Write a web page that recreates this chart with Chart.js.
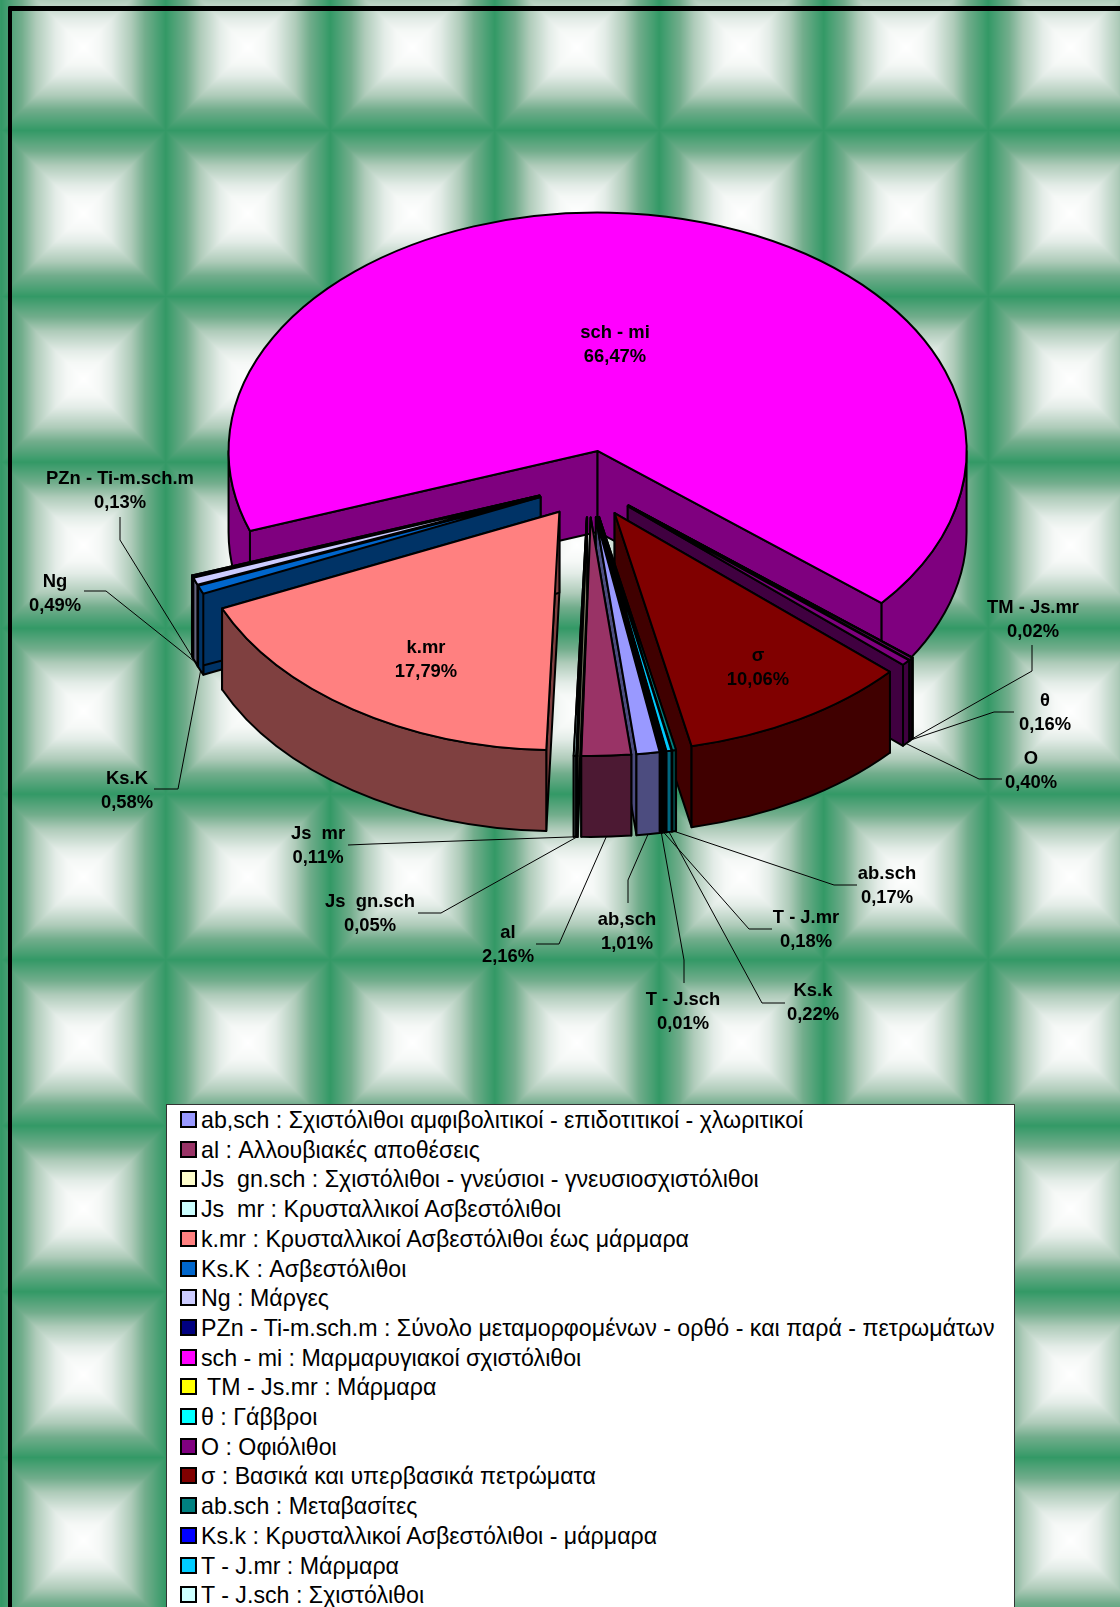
<!DOCTYPE html>
<html>
<head>
<meta charset="utf-8">
<style>
  html, body { margin: 0; padding: 0; background: #fff; overflow: hidden; }
  #page { position: relative; width: 1120px; height: 1607px; overflow: hidden; }
  #fondo, #grafico { position: absolute; left: 0; top: 0; }
  #marco { position: absolute; left: 8px; top: 6px; width: 1120px; height: 1620px; border: solid #000; border-width: 5px 0 0 4.5px; border-top-left-radius: 2px; }
  #leyenda { position: absolute; left: 166px; top: 1104px; width: 847px; height: 520px; background: #fff; border: 1px solid #333; font: 23.2px "Liberation Sans", Arial, sans-serif; color: #000; }
  .fila { position: absolute; left: 13px; height: 30px; line-height: 30px; white-space: pre; }
  .caja { position: absolute; left: 0; top: 6px; width: 13px; height: 13px; border: 2px solid #000; }
  .txt { position: absolute; left: 21px; top: 0; }
</style>
</head>
<body>
<div id="page">
  <canvas id="fondo" width="1120" height="1607"></canvas>
  <div id="marco"></div>
  <canvas id="grafico" width="1120" height="1607"></canvas>
  <div id="leyenda"></div>
</div>
<script src="https://cdn.jsdelivr.net/npm/chart.js@4/dist/chart.umd.min.js"></script>
<script>
const codes = ["ab,sch", "al", "Js  gn.sch", "Js  mr", "k.mr", "Ks.K", "Ng", "PZn - Ti-m.sch.m", "sch - mi", "TM - Js.mr", "θ", "O", "σ", "ab.sch", "Ks.k", "T - J.mr", "T - J.sch"];
const percents = [1.01, 2.16, 0.05, 0.11, 17.79, 0.58, 0.49, 0.13, 66.47, 0.02, 0.16, 0.40, 10.06, 0.17, 0.22, 0.18, 0.01];
const legendColors = ["#9999FF", "#993366", "#FFFFCC", "#CCFFFF", "#FF8080", "#0066CC", "#CCCCFF", "#000080", "#FF00FF", "#FFFF00", "#00FFFF", "#800080", "#800000", "#008080", "#0000FF", "#00CCFF", "#CCFFFF"];
// the thin slices do not show their legend colour in the picture (θ, Ks.k, T - J.mr)
const sliceColors = ["#9999FF", "#993366", "#FFFFCC", "#CCFFFF", "#FF8080", "#0066CC", "#CCCCFF", "#000080", "#FF00FF", "#FFFF00", "#800080", "#800080", "#800000", "#008080", "#00CCFF", "#000000", "#CCFFFF"];
const legendNames = [
  "ab,sch : Σχιστόλιθοι αμφιβολιτικοί - επιδοτιτικοί - χλωριτικοί",
  "al : Αλλουβιακές αποθέσεις",
  "Js  gn.sch : Σχιστόλιθοι - γνεύσιοι - γνευσιοσχιστόλιθοι",
  "Js  mr : Κρυσταλλικοί Ασβεστόλιθοι",
  "k.mr : Κρυσταλλικοί Ασβεστόλιθοι έως μάρμαρα",
  "Ks.K : Ασβεστόλιθοι",
  "Ng : Μάργες",
  "PZn - Ti-m.sch.m : Σύνολο μεταμορφομένων - ορθό - και παρά - πετρωμάτων",
  "sch - mi : Μαρμαρυγιακοί σχιστόλιθοι",
  " TM - Js.mr : Μάρμαρα",
  "θ : Γάββροι",
  "O : Οφιόλιθοι",
  "σ : Βασικά και υπερβασικά πετρώματα",
  "ab.sch : Μεταβασίτες",
  "Ks.k : Κρυσταλλικοί Ασβεστόλιθοι - μάρμαρα",
  "T - J.mr : Μάρμαρα",
  "T - J.sch : Σχιστόλιθοι"
];

// 3d look of the pie
const SQUASH = 0.646;
const DEPTH = 81;
const EXPLODE = 52;

// label center [x, y of first line] and the elbow of its leader line (first two points, the last comes from the slice)
const callouts = {
  "ab,sch": { at: [627, 918], line: [[628, 903], [628, 880]] },
  "al": { at: [508, 931], line: [[536, 944], [559, 944]] },
  "Js  gn.sch": { at: [370, 900], line: [[418, 913], [441, 913]] },
  "Js  mr": { at: [318, 832], line: [[348, 845], [372, 844]] },
  "k.mr": { at: [426, 646] },
  "Ks.K": { at: [127, 777], line: [[154, 789], [178, 789]] },
  "Ng": { at: [55, 580], line: [[84, 591], [106, 591]] },
  "PZn - Ti-m.sch.m": { at: [120, 477], line: [[120, 517], [120, 540]] },
  "sch - mi": { at: [615, 331] },
  "TM - Js.mr": { at: [1033, 606], line: [[1032, 645], [1032, 671]] },
  "θ": { at: [1045, 699], line: [[1014, 712], [994, 712]] },
  "O": { at: [1031, 757], line: [[1002, 779], [979, 779]] },
  "σ": { at: [758, 654] },
  "ab.sch": { at: [887, 872], line: [[857, 885], [834, 885]] },
  "Ks.k": { at: [813, 989], line: [[785, 1003], [762, 1003]] },
  "T - J.mr": { at: [806, 916], line: [[772, 929], [749, 929]] },
  "T - J.sch": { at: [683, 998], line: [[684, 983], [684, 960]] }
};

// tiled background, rectangular gradient white center -> green edge
function drawFondo() {
  const c = document.getElementById("fondo").getContext("2d");
  const img = c.createImageData(1120, 1607);
  const stops = [[0, 255, 255, 255], [0.2, 245, 248, 246], [0.34, 227, 236, 231], [0.58, 174, 203, 185], [0.75, 114, 173, 140], [1, 51, 153, 102]];
  const pw = 164.5, ph = 165.9;
  for (let y = 0; y < 1607; y++) {
    for (let x = 0; x < 1120; x++) {
      const dx = Math.abs((((x - 83) % pw) + pw + pw / 2) % pw - pw / 2) / (pw / 2);
      const dy = Math.abs((((y - 47) % ph) + ph + ph / 2) % ph - ph / 2) / (ph / 2);
      const d = Math.max(dx, dy);
      let k = 0;
      while (k < stops.length - 2 && d > stops[k + 1][0]) k++;
      const t = (d - stops[k][0]) / (stops[k + 1][0] - stops[k][0]);
      const i = (y * 1120 + x) * 4;
      img.data[i] = stops[k][1] + (stops[k + 1][1] - stops[k][1]) * t;
      img.data[i + 1] = stops[k][2] + (stops[k + 1][2] - stops[k][2]) * t;
      img.data[i + 2] = stops[k][3] + (stops[k + 1][3] - stops[k][3]) * t;
      img.data[i + 3] = 255;
    }
  }
  c.putImageData(img, 0, 0);
}

function darker(hex) {
  const n = parseInt(hex.slice(1), 16);
  return "rgb(" + ((n >> 16) >> 1) + "," + (((n >> 8) & 255) >> 1) + "," + ((n & 255) >> 1) + ")";
}

function paint(ctx, fill) {
  ctx.fillStyle = fill;
  ctx.fill();
  ctx.stroke();
}

function apexOf(arc) {
  const mid = (arc.startAngle + arc.endAngle) / 2;
  return [arc.x + EXPLODE * Math.cos(mid), arc.y + EXPLODE * Math.sin(mid) * SQUASH];
}

function edgePoint(arc, a, apex) {
  return [apex[0] + arc.outerRadius * Math.cos(a), apex[1] + arc.outerRadius * Math.sin(a) * SQUASH];
}

function drawWall(ctx, arc, apex, a, fill) {
  const p = edgePoint(arc, a, apex);
  ctx.beginPath();
  ctx.moveTo(apex[0], apex[1]);
  ctx.lineTo(p[0], p[1]);
  ctx.lineTo(p[0], p[1] + DEPTH);
  ctx.lineTo(apex[0], apex[1] + DEPTH);
  ctx.closePath();
  paint(ctx, fill);
}

function drawRim(ctx, arc, apex, fill) {
  const r = arc.outerRadius;
  for (let k = -1; k <= 2; k++) {
    const lo = Math.max(arc.startAngle, 2 * Math.PI * k);
    const hi = Math.min(arc.endAngle, 2 * Math.PI * k + Math.PI);
    if (hi <= lo) continue;
    ctx.beginPath();
    ctx.ellipse(apex[0], apex[1], r, r * SQUASH, 0, lo, hi);
    ctx.ellipse(apex[0], apex[1] + DEPTH, r, r * SQUASH, 0, hi, lo, true);
    ctx.closePath();
    paint(ctx, fill);
  }
}

function drawTop(ctx, arc, apex, fill) {
  const r = arc.outerRadius;
  ctx.beginPath();
  ctx.moveTo(apex[0], apex[1]);
  ctx.ellipse(apex[0], apex[1], r, r * SQUASH, 0, arc.startAngle, arc.endAngle);
  ctx.closePath();
  paint(ctx, fill);
}

const pie3d = {
  id: "pie3d",
  beforeDatasetsDraw(chart) {
    const ctx = chart.ctx;
    const arcs = chart.getDatasetMeta(0).data;
    // back slices first
    const order = arcs.map((a, i) => i).sort((i, j) => apexOf(arcs[i])[1] - apexOf(arcs[j])[1]);
    ctx.save();
    ctx.strokeStyle = "#000";
    ctx.lineWidth = 2;
    ctx.lineJoin = "round";
    order.forEach(i => {
      const arc = arcs[i];
      const apex = apexOf(arc);
      const top = arc.options.backgroundColor;
      const side = darker(top);
      drawWall(ctx, arc, apex, arc.startAngle, side);
      drawWall(ctx, arc, apex, arc.endAngle, side);
      drawRim(ctx, arc, apex, side);
      drawTop(ctx, arc, apex, top);
    });

    // leader lines
    ctx.lineWidth = 1;
    codes.forEach((code, i) => {
      const pts = callouts[code].line;
      if (!pts) return;
      const arc = arcs[i];
      const end = edgePoint(arc, (arc.startAngle + arc.endAngle) / 2, apexOf(arc));
      ctx.beginPath();
      ctx.moveTo(pts[0][0], pts[0][1]);
      ctx.lineTo(pts[1][0], pts[1][1]);
      ctx.lineTo(end[0], end[1] + DEPTH);
      ctx.stroke();
    });

    // labels
    ctx.fillStyle = "#000";
    ctx.font = 'bold 18.4px "Liberation Sans", Arial, sans-serif';
    ctx.textAlign = "center";
    ctx.textBaseline = "middle";
    codes.forEach((code, i) => {
      const at = callouts[code].at;
      ctx.fillText(code, at[0], at[1] + 1.5);
      ctx.fillText(percents[i].toFixed(2).replace(".", ",") + "%", at[0], at[1] + 26);
    });
    ctx.restore();
    return false;
  }
};

drawFondo();

const chart = new Chart(document.getElementById("grafico"), {
  type: "pie",
  data: {
    labels: codes,
    datasets: [{ data: percents, backgroundColor: sliceColors, borderWidth: 0 }]
  },
  options: {
    responsive: false,
    animation: false,
    rotation: 170.05,
    radius: 369,
    layout: { padding: { left: 57, right: 0, top: 0, bottom: 639 } },
    plugins: { legend: { display: false }, tooltip: { enabled: false } }
  },
  plugins: [pie3d]
});

// html legend
const leyenda = document.getElementById("leyenda");
legendNames.forEach((name, i) => {
  const fila = document.createElement("div");
  fila.className = "fila";
  fila.style.top = (i * 29.7) + "px";
  fila.innerHTML = '<span class="caja" style="background:' + legendColors[i] + '"></span><span class="txt"></span>';
  fila.querySelector(".txt").textContent = name;
  leyenda.appendChild(fila);
});
</script>
</body>
</html>
